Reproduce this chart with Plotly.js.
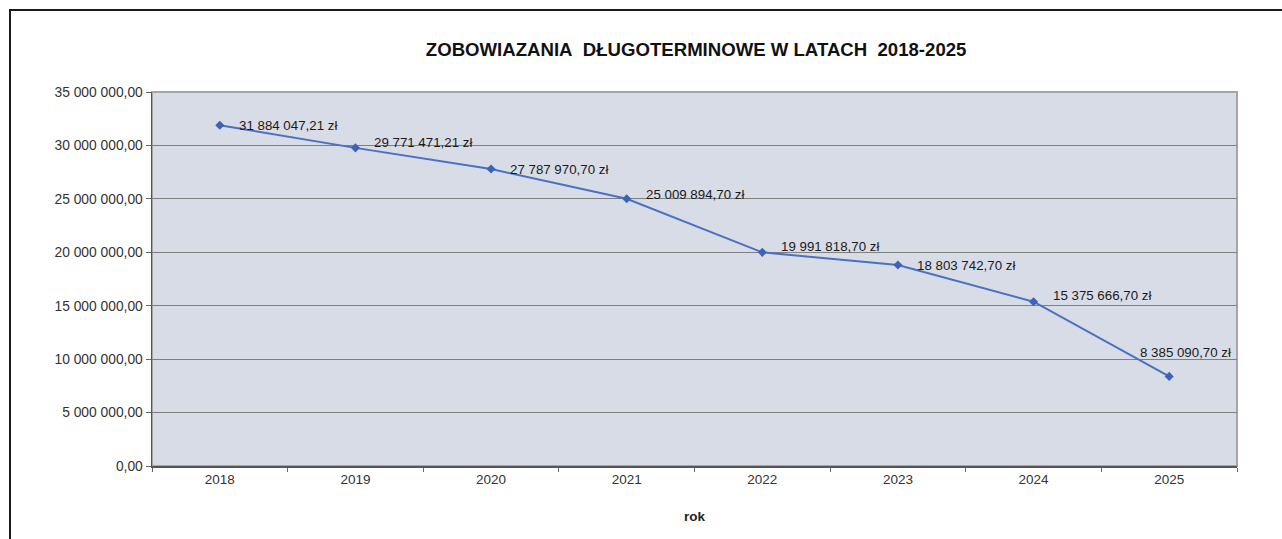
<!DOCTYPE html>
<html>
<head>
<meta charset="utf-8">
<script src="https://cdn.plot.ly/plotly-3.0.1.min.js"></script>
<style>
html,body{margin:0;padding:0;background:#fff;}
#chart{width:1282px;height:539px;position:absolute;left:0;top:0;}
#frame{position:absolute;left:9px;top:9px;width:1300px;height:560px;border-left:2px solid #1a1a1a;border-top:2px solid #1a1a1a;pointer-events:none;}
</style>
</head>
<body>
<div id="chart"></div>
<div id="frame"></div>
<script>
const years = ['2018','2019','2020','2021','2022','2023','2024','2025'];
const debt = [31884047.21, 29771471.21, 27787970.70, 25009894.70, 19991818.70, 18803742.70, 15375666.70, 8385090.70];
const titleText = 'ZOBOWIAZANIA\u00a0 DŁUGOTERMINOWE W LATACH\u00a0 2018-2025';
const xTitle = 'rok';

function fmt(v){
  const parts = v.toFixed(2).split('.');
  const intPart = parts[0].replace(/\B(?=(\d{3})+(?!\d))/g, ' ');
  return intPart + ',' + parts[1] + ' zł';
}

const FONT = 'Liberation Sans, Arial, sans-serif';
const labelShift = [[17,0],[17,5],[17,0],[17,4],[17,6],[17,0],[17,6],[16,24]];
const annotations = years.map((y,i)=>{
  const last = i === years.length-1;
  return {
    x: i, y: debt[i], xref:'x', yref:'y',
    text: fmt(debt[i]), showarrow:false,
    xanchor: last ? 'center' : 'left', yanchor:'middle',
    xshift: labelShift[i][0], yshift: labelShift[i][1],
    font:{family:FONT, size:13.3, color:'#1a1a1a'}
  };
});

const trace = {
  x: years, y: debt, type:'scatter', mode:'lines+markers',
  line:{color:'#4a70c2', width:2},
  marker:{symbol:'diamond', size:7, color:'#3d63b8'},
  hoverinfo:'skip'
};

const layout = {
  width:1282, height:539,
  margin:{l:152, r:45, t:92, b:73},
  paper_bgcolor:'#ffffff',
  plot_bgcolor:'#d8dce6',
  separators:', ',
  showlegend:false,
  title:{text:titleText, x:0.543, xanchor:'center', y:0.908, yanchor:'middle',
    font:{family:FONT, size:18.6, color:'#111', weight:'bold'}},
  xaxis:{
    type:'category', tickson:'boundaries', ticks:'outside', ticklen:4, tickcolor:'#666',
    showline:true, linecolor:'#555', linewidth:1.5, showgrid:false, zeroline:false,
    tickfont:{family:FONT, size:13.5, color:'#333'},
    title:{text:xTitle, standoff:26, font:{family:FONT, size:13.5, color:'#222', weight:'bold'}},
    range:[-0.5,7.5], fixedrange:true
  },
  yaxis:{
    range:[0,35000000], dtick:5000000, tickformat:',.2f',
    ticks:'outside', ticklen:5, tickcolor:'#666',
    showline:true, linecolor:'#555', linewidth:1.5,
    showgrid:true, gridcolor:'#7f7f7f', gridwidth:1, zeroline:false,
    tickfont:{family:FONT, size:13.8, color:'#333'},
    fixedrange:true
  },
  shapes:[{type:'rect', xref:'paper', yref:'paper', x0:0, x1:1, y0:0, y1:1,
    line:{color:'#a6a6a6', width:2}, layer:'below'}],
  annotations: annotations
};

Plotly.newPlot('chart', [trace], layout, {displayModeBar:false, staticPlot:true});
</script>
</body>
</html>
